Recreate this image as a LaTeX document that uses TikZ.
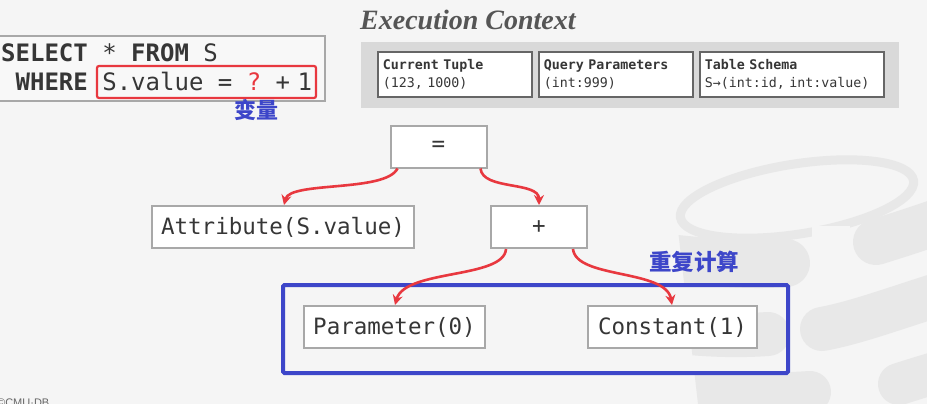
\documentclass[tikz,border=0pt]{standalone}
\usepackage{fontspec}
\setmainfont{Liberation Serif}
\setsansfont{Liberation Sans}
\setmonofont{DejaVu Sans Mono}
\newfontfamily\cjk{Noto Sans CJK SC}
\usetikzlibrary{arrows.meta}

\definecolor{slidebg}{HTML}{F5F5F5}
\definecolor{ink}{HTML}{363636}
\definecolor{boxgray}{HTML}{A8A8A8}
\definecolor{arrowred}{HTML}{E8383F}
\definecolor{hiblue}{HTML}{3D46C9}
\definecolor{panelgray}{HTML}{D9D9D9}
\definecolor{ctxedge}{HTML}{666666}
\definecolor{logo}{HTML}{E8E8E8}
\definecolor{titlegray}{HTML}{555555}

\tikzset{
  treebox/.style={draw=boxgray, line width=2pt, fill=white, text=ink,
    inner sep=0pt, minimum height=42,
    font=\fontsize{22.5}{27}\selectfont\ttfamily},
  ctxbox/.style={draw=ctxedge, line width=1.8pt, fill=white, text=ink,
    anchor=north west, align=left, inner xsep=5pt, inner ysep=0pt,
    minimum height=45, font=\fontsize{13.3}{18}\selectfont\ttfamily},
  sqlline/.style={anchor=base west, inner sep=0pt, text=ink,
    font=\fontsize{24}{28}\selectfont\ttfamily},
  cjklabel/.style={text=hiblue, inner sep=0pt,
    font=\fontsize{22}{26}\selectfont\cjk\bfseries},
  edgearrow/.style={draw=arrowred, line width=2.6pt,
    -{Stealth[length=10pt,width=10pt]}},
  stripe/.style={draw=logo, line cap=round}
}

\begin{document}
\begin{tikzpicture}[x=1pt,y=-1pt]
\useasboundingbox (0,0) rectangle (927,404);
\fill[slidebg] (0,0) rectangle (927,404);

% database logo watermark: top rim and split stripes of the cylinder
\draw[logo, line width=9pt, rotate around={9:(797,199)}] (797,199) ellipse [x radius=118, y radius=35];
\fill[slidebg] (812,226) rectangle (850,252);
\begin{scope}
  \clip (674,195) -- (698,404) -- (927,404) -- (927,150) -- (674,150) -- cycle;
  \draw[stripe, line width=48pt] (650,256) .. controls (700,262) and (750,266) .. (786,263);
  \draw[stripe, line width=46pt] (876,242) .. controls (895,236) and (915,230) .. (960,214);
  \draw[stripe, line width=44pt] (650,328) .. controls (700,336) and (740,336) .. (768,334);
  \draw[stripe, line width=44pt] (822,329) .. controls (860,322) and (900,306) .. (960,288);
  \draw[stripe, line width=42pt] (650,394) .. controls (720,396) and (780,394) .. (810,392);
  \draw[stripe, line width=42pt] (899,384) .. controls (915,379) and (930,374) .. (960,366);
\end{scope}

% SQL statement
\node[draw=boxgray, line width=2pt, fill=white!30!slidebg, inner sep=0pt,
  minimum width=328, minimum height=65] (sqlbox) at (161,68.5) {};
\node[sqlline] (sql1) at (1,62) {\textbf{SELECT} * \textbf{FROM} S};
\node[sqlline] (sql2) at (1,91) {\ \textbf{WHERE} S.value = {\color{arrowred}?} +\kern-7pt{} 1};
\node[draw=arrowred, line width=2.2pt, rounded corners=2pt, inner sep=0pt,
  minimum width=219, minimum height=32] (hole) at (206.5,82) {};
\node[cjklabel] (var) at (256,110.5) {变量};

% execution context
\node[anchor=base west, inner sep=0pt, text=titlegray,
  font=\fontsize{28}{32}\selectfont\bfseries\itshape] (ctxtitle) at (360,30) {Execution Context};
\node[fill=panelgray, inner sep=0pt, minimum width=538, minimum height=66,
  anchor=north west] (panel) at (361,42) {};
\node[ctxbox, text width=144] (tuple) at (377,51) {\textbf{Current Tuple}\\(123, 1000)};
\node[ctxbox, text width=144] (params) at (538,51) {\textbf{Query Parameters}\\(int:999)};
\node[ctxbox, text width=174] (schema) at (699,51) {\textbf{Table Schema}\\S→(int:id, int:value)};

% expression tree
\node[treebox, minimum width=96] (eq) at (438.5,146.5) {=};
\node[treebox, minimum width=262] (attr) at (283,227) {Attribute(S.value)};
\node[treebox, minimum width=96] (plus) at (539,227) {+};
\node[treebox, minimum width=181] (param) at (394.5,327) {Parameter(0)};
\node[treebox, minimum width=169] (const) at (672.5,327) {Constant(1)};

\node[draw=hiblue, line width=4pt, rounded corners=1.5pt, inner sep=0pt,
  minimum width=505, minimum height=88] (repeat) at (535.5,329) {};
\node[cjklabel, font=\fontsize{22.5}{26}\selectfont\cjk\bfseries] (repeatlbl) at (694,262) {重复计算};

\draw[edgearrow] ([xshift=8pt]eq.south west) .. controls +(-12,24) and +(6,-24) .. ([xshift=1pt]attr.north);
\draw[edgearrow] ([xshift=-7pt]eq.south east) .. controls +(2,22) and +(0,-24) .. (plus.north);
\draw[edgearrow] ([xshift=16pt]plus.south west) .. controls +(-2,30) and +(10,-36) .. ([xshift=0.5pt]param.north);
\draw[edgearrow] ([xshift=-15pt]plus.south east) .. controls +(3,30) and +(-6,-36) .. ([xshift=-0.5pt]const.north);

% footer
\node[anchor=base west, inner sep=0pt, text=black!60,
  font=\fontsize{11}{13}\selectfont\sffamily] (footer) at (-3,406) {©CMU·DB};
\end{tikzpicture}
\end{document}
